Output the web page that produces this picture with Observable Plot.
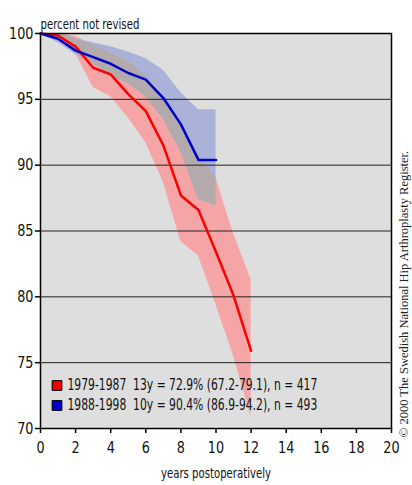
<!DOCTYPE html>
<html><head><meta charset="utf-8">
<script src="https://cdn.jsdelivr.net/npm/d3@7"></script>
<script src="https://cdn.jsdelivr.net/npm/@observablehq/plot@0.6"></script>
<style>body{margin:0;background:#fff}</style>
</head><body><div id="chart"></div>
<script>
const years = [0,1,2,3,4,5,6,7,8,9,10,11,12];
const redLine = [100, 99.85, 99.0, 97.4, 96.9, 95.4, 94.1, 91.5, 87.7, 86.6, 83.4, 80.1, 75.9];
const redLow  = [100, 99.7, 98.5, 95.9, 95.2, 93.6, 91.7, 88.7, 84.2, 83.1, 79.4, 75.5, 70.9];
const redHigh = [100, 100, 99.8, 99.1, 98.5, 97.9, 96.8, 95.0, 92.9, 90.9, 89.0, 84.8, 81.3];
const blueYears = [0,1,2,3,4,5,6,7,8,9,10];
const blueLine = [100, 99.6, 98.7, 98.2, 97.7, 97.0, 96.5, 95.1, 93.1, 90.4, 90.4];
const blueLow  = [100, 99.3, 98.4, 97.7, 96.8, 96.2, 95.2, 93.5, 91.0, 87.4, 86.9];
const blueHigh = [100, 100, 99.6, 99.3, 99.0, 98.6, 98.1, 97.2, 95.5, 94.2, 94.2];
const legendLabels = ["1979-1987  13y = 72.9% (67.2-79.1), n = 417", "1988-1998  10y = 90.4% (86.9-94.2), n = 493"];
const legendColors = ["#ee0000", "#0000cc"];
const yTicks = [70,75,80,85,90,95,100];
const xTicks = [0,2,4,6,8,10,12,14,16,18,20];
const gridValues = [75,80,85,90,95];

const red = years.map((x,i)=>({x, y:redLine[i], lo:redLow[i], hi:redHigh[i]}));
const blue = blueYears.map((x,i)=>({x, y:blueLine[i], lo:blueLow[i], hi:blueHigh[i]}));
const overlap = blueYears.map((x,i)=>{
  const lo = Math.max(redLow[i], blueLow[i]);
  const hi = Math.max(lo, Math.min(redHigh[i], blueHigh[i]));
  return {x, lo, hi};
});

const font = "'DejaVu Sans',sans-serif";

const legendMarks = legendLabels.flatMap((t,i)=>[
  Plot.dot([t], {frameAnchor:"bottom-left", dx:16.5, dy:-43 + 20*i, symbol:"square", r:5.5, fill:legendColors[i], stroke:"#000", strokeWidth:1}),
  Plot.text([t], {frameAnchor:"bottom-left", dx:27, dy:-43 + 20*i, text:d=>d, textAnchor:"start", lineAnchor:"middle", fontSize:15, fill:"#111"})
]);

const chart = Plot.plot({
  width: 412, height: 485,
  marginLeft: 40, marginRight: 21, marginTop: 33, marginBottom: 57,
  style: {fontFamily: font, background: "#fff", overflow: "visible"},
  x: {domain: [0,20]},
  y: {domain: [70,100]},
  marks: [
    Plot.frame({fill: "#dedede", stroke: null}),
    Plot.areaY(red, {x:"x", y1:"lo", y2:"hi", fill:"#f5a5a5"}),
    Plot.areaY(blue, {x:"x", y1:"lo", y2:"hi", fill:"#aab2d9"}),
    Plot.areaY(overlap, {x:"x", y1:"lo", y2:"hi", fill:"#b3abab"}),
    Plot.ruleY(gridValues, {stroke:"#222", strokeWidth:1}),
    Plot.line(red, {x:"x", y:"y", stroke:"#ff0000", strokeWidth:2.5}),
    Plot.line(blue, {x:"x", y:"y", stroke:"#0000cc", strokeWidth:2.5}),
    Plot.frame({stroke:"#000", strokeWidth:1.5}),
    Plot.axisY({ticks: yTicks, tickSize: 5, tickPadding: 2, fontSize: 16, label: null, stroke:"#000", strokeWidth:1.5, fill:"#111"}),
    Plot.axisX({ticks: xTicks, tickSize: 5, tickPadding: 8, fontSize: 16, label: null, stroke:"#000", strokeWidth:1.5, fill:"#111"}),
    ...legendMarks,
    Plot.text(["percent not revised"], {frameAnchor:"top-left", dy:-15, text:d=>d, textAnchor:"start", fontSize:14.5, fill:"#111"}),
    Plot.text(["years postoperatively"], {frameAnchor:"bottom", dy:49, text:d=>d, textAnchor:"middle", fontSize:14.5, fill:"#111"}),
    Plot.text(["© 2000 The Swedish National Hip Arthroplasty Register."], {frameAnchor:"right", dx:12, dy:63, rotate:-90, textAnchor:"middle", text:d=>d, fontFamily:"'Liberation Serif','DejaVu Serif',serif", fontSize:12.5, fill:"#222"})
  ]
});
document.getElementById("chart").append(chart);

// condense the sans-serif labels horizontally (the original uses a condensed face)
d3.select(chart).selectAll("text").each(function(){
  const s = this.textContent;
  if (s.startsWith("©")) return;
  const k = /^\d+$/.test(s) ? 0.8 : legendLabels.includes(s) ? 0.72 : 0.7;
  let t = this.getAttribute("transform") || "";
  const x = this.getAttribute("x");
  if (x !== null && !isNaN(+x)) { t += ` translate(${x},0)`; this.removeAttribute("x"); }
  this.setAttribute("transform", (t + ` scale(${k},1)`).trim());
});
</script>
</body></html>
